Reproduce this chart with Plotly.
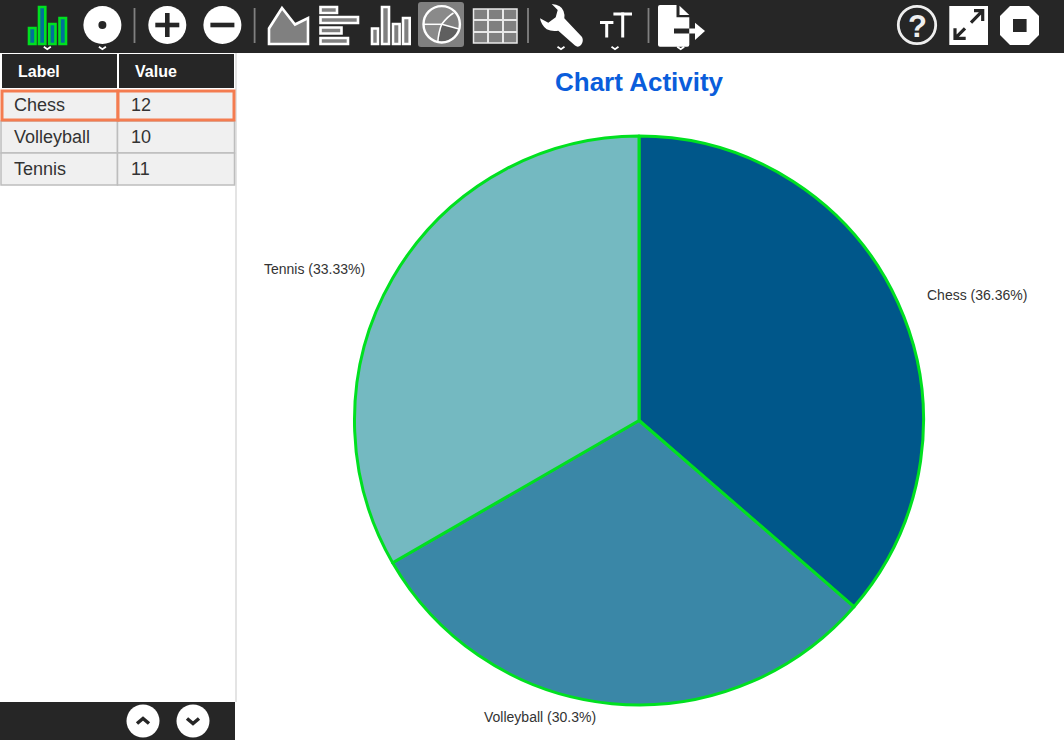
import plotly.graph_objects as go

labels = ["Chess", "Volleyball", "Tennis"]
values = [12, 10, 11]
slice_colors = ["#00578a", "#3a87a7", "#74b9c1"]
headers = ["Label", "Value"]
title_text = "Chart Activity"

W, H = 1064, 740
DARK = "#262626"
GREEN = "#00e020"
FONT = "Liberation Sans, Arial, sans-serif"
total = sum(values)


def pct(v):
    s = f"{v / total * 100:.2f}".rstrip("0").rstrip(".")
    return f"{s}%"


shapes, annos = [], []


def rect(x0, y0, x1, y1, fill=None, line=None, lw=0):
    shapes.append(dict(type="rect", x0=x0, y0=y0, x1=x1, y1=y1, xref="x", yref="y",
                       fillcolor=fill or "rgba(0,0,0,0)", layer="above",
                       line=dict(color=line or "rgba(0,0,0,0)", width=lw)))


def circle(cx, cy, r, fill=None, line=None, lw=0):
    shapes.append(dict(type="circle", x0=cx - r, y0=cy - r, x1=cx + r, y1=cy + r, xref="x", yref="y",
                       fillcolor=fill or "rgba(0,0,0,0)", layer="above",
                       line=dict(color=line or "rgba(0,0,0,0)", width=lw)))


def path(d, fill=None, line=None, lw=0):
    shapes.append(dict(type="path", path=d, xref="x", yref="y",
                       fillcolor=fill or "rgba(0,0,0,0)", layer="above",
                       line=dict(color=line or "rgba(0,0,0,0)", width=lw)))


def text(x, y, s, size, color, bold=False, anchor="left", family=FONT):
    annos.append(dict(x=x, y=y, xref="x", yref="y", text=f"<b>{s}</b>" if bold else s, showarrow=False,
                      xanchor=anchor, yanchor="middle", align=anchor,
                      font=dict(size=size, color=color, family=family)))


def chevron(cx, cy, w=3.5, h=2.5, color="#ffffff", lw=1.8, up=False):
    s = -1 if up else 1
    path(f"M{cx-w},{cy-s*h/2} L{cx},{cy+s*h/2} L{cx+w},{cy-s*h/2}", line=color, lw=lw)


# toolbar
rect(0, 0, W, 53, fill=DARK)
for x0, y0, x1 in [(29, 28, 35.5), (39, 7, 45.3), (49.3, 24, 55.5), (59.5, 18, 66)]:
    rect(x0, y0, x1, 44, fill="#00709a", line=GREEN, lw=2.6)
chevron(47.3, 48)
circle(102.4, 25, 19, fill="#ffffff")
circle(102.4, 25, 4, fill=DARK)
chevron(102.4, 48)
for x in (134.5, 254.6, 528, 648.5):
    rect(x - 0.9, 8, x + 0.9, 43, fill="#808080")
circle(167.3, 25, 19, fill="#ffffff")
rect(155.3, 22.7, 179.3, 27.3, fill=DARK)
rect(165, 13, 169.6, 37, fill=DARK)
circle(222.4, 25, 19, fill="#ffffff")
rect(210.4, 22.7, 234.4, 27.3, fill=DARK)
path("M269,44 L269,28.5 L282,8 L295,24.5 L308,18 L308,44 Z", fill="#808080", line="#ffffff", lw=2.6)
for x0, y0, x1, y1 in [(320.5, 7, 337, 13), (320.5, 17, 358, 23), (320.5, 27.5, 341.5, 33.5), (320.5, 38, 348, 44)]:
    rect(x0, y0, x1, y1, fill="#808080", line="#ffffff", lw=2.6)
for x0, y0, x1 in [(372, 28.5, 378), (382, 7, 389), (393, 24, 399.6), (403, 18, 409.7)]:
    rect(x0, y0, x1, 44, fill="#808080", line="#ffffff", lw=2.6)
# selected pie icon
path("M421,2 L461,2 Q464,2 464,5 L464,44 Q464,47 461,47 L421,47 Q418,47 418,44 L418,5 Q418,2 421,2 Z", fill="#808080")
path("M441.7,24.3 L459,29 Q457,40 438,42.5 Z", fill="#5f5f5f")
path("M441.7,24.3 L424,24.3 Q424,40 438,42.5 Z", fill="#8a8a8a")
path("M441.7,24.3 L424,24.3 Q426,8 441,6.5 Q448,7 453,13 Q447,17 441.7,24.3 Z", fill="#8a8a8a")
circle(441.7, 24.3, 18.2, line="#ffffff", lw=2.4)
path("M423,24.3 L441.7,24.3", line="#ffffff", lw=1.5)
path("M437.7,43 Q438.5,32 441.7,24.3", line="#ffffff", lw=1.5)
path("M441.7,24.3 Q447,17 453.5,13", line="#ffffff", lw=1.5)
path("M441.7,24.3 L460,29.3", line="#ffffff", lw=1.5)
# grid icon
rect(473.5, 9, 517, 43, fill="#808080", line="#e8e8e8", lw=1.5)
for x in (488, 503):
    rect(x - 1, 9, x + 1, 43, fill="#e8e8e8")
for y in (20, 32):
    rect(473.5, y - 1, 517, y + 1, fill="#e8e8e8")
# wrench
path("M551.7,4 Q561.7,5 563.5,11 Q565,15 564.3,18.3 L582,37 Q584,41 581,45 Q578,48 575,45.5 L558.3,30.7 "
     "Q552,32 546.7,29.3 Q541,25 540,18.3 L548.3,22.7 L555.7,17.3 L557.7,10 Z", fill="#ffffff")
chevron(561, 48)
# text-size icon
rect(600, 21, 613.4, 24, fill="#ffffff")
rect(605.2, 21, 608.2, 37.5, fill="#ffffff")
rect(613.4, 12.5, 632, 15.5, fill="#ffffff")
rect(621.2, 12.5, 624.2, 37.5, fill="#ffffff")
chevron(615, 48)
# export icon
path("M660,5 L676.5,5 L676.5,17.3 L689.3,17.3 L689.3,44.7 Q689.3,46.7 687.3,46.7 L660,46.7 Q658,46.7 658,44.7 L658,7 Q658,5 660,5 Z", fill="#ffffff")
path("M679.5,5.7 L689.3,15 L679.5,15 Z", fill="#ffffff")
rect(674, 28.5, 689.3, 33.5, fill=DARK)
rect(689.3, 28.5, 695.5, 33.5, fill="#ffffff")
path("M695,22.7 L705,31 L695,40 Z", fill="#ffffff")
chevron(680.7, 48)
# right-hand icons
circle(917, 25, 18.7, line="#eeeeee", lw=2.8)
text(917, 26, "?", 31, "#eeeeee", bold=True, anchor="center")
rect(949.3, 6, 988, 45, fill="#ffffff")
path("M982.7,10.7 L971,22.7 M974,10.7 L982.7,10.7 L982.7,21", line=DARK, lw=3.2)
path("M955,38.3 L965,28.3 M955,28.3 L955,38.3 L965.7,38.3", line=DARK, lw=3.2)
path("M1010,6 L1029,6 L1039,16 L1039,35 L1029,45 L1010,45 L1000,35 L1000,16 Z", fill="#ffffff")
rect(1013, 19, 1026.6, 32, fill=DARK)

# side panel
rect(235, 53, 237, 702, fill="#e4e4e4")
rect(2, 54, 117, 88, fill=DARK)
rect(119, 54, 234, 88, fill=DARK)
text(16, 71, headers[0], 16, "#ffffff", bold=True)
text(133, 71, headers[1], 16, "#ffffff", bold=True)
row_tops = [90, 122, 154]
for i, (lab, val) in enumerate(zip(labels, values)):
    y = row_tops[i]
    if i > 0:
        rect(1, y - 1, 117.5, y + 31, fill="#f0f0f0", line="#bdbdbd", lw=1.5)
        rect(117.5, y - 1, 234.5, y + 31, fill="#f0f0f0", line="#bdbdbd", lw=1.5)
for x0, x1 in [(2, 118), (118, 234)]:
    rect(x0, 91, x1, 120, fill="#f0f0f0", line="#f47c50", lw=3)
for i, (lab, val) in enumerate(zip(labels, values)):
    y = row_tops[i] + 15
    text(12, y, lab, 18, "#333333")
    text(129, y, str(val), 18, "#333333")

# footer
rect(0, 702, 235, 740, fill=DARK)
circle(143, 721, 16.5, fill="#ffffff")
chevron(143, 721, w=6, h=5, color=DARK, lw=3.5, up=True)
circle(193, 721, 16.5, fill="#ffffff")
chevron(193, 721, w=6, h=5, color=DARK, lw=3.5)

# title and slice labels
text(639, 82, title_text, 26, "#0a5ddb", bold=True, anchor="center")
label_pos = [(925, 295), (482, 717), (262, 269)]
for (x, y), lab, val in zip(label_pos, labels, values):
    text(x, y, f"{lab} ({pct(val)})", 14, "#333333")

cx, cy, r = 639, 420.5, 284.5
fig = go.Figure(go.Pie(
    labels=labels, values=values, sort=False, direction="clockwise", rotation=0,
    textinfo="none", hoverinfo="label+percent", showlegend=False,
    marker=dict(colors=slice_colors, line=dict(color=GREEN, width=3)),
    domain=dict(x=[(cx - r) / W, (cx + r) / W], y=[1 - (cy + r) / H, 1 - (cy - r) / H]),
))
fig.update_layout(
    width=W, height=H, margin=dict(l=0, r=0, t=0, b=0), paper_bgcolor="#ffffff", plot_bgcolor="rgba(0,0,0,0)",
    xaxis=dict(range=[0, W], visible=False, fixedrange=True),
    yaxis=dict(range=[H, 0], visible=False, fixedrange=True),
    shapes=shapes, annotations=annos,
)
fig.write_html("out.html", config=dict(displayModeBar=False),
               post_script="document.body.style.margin='0';")
